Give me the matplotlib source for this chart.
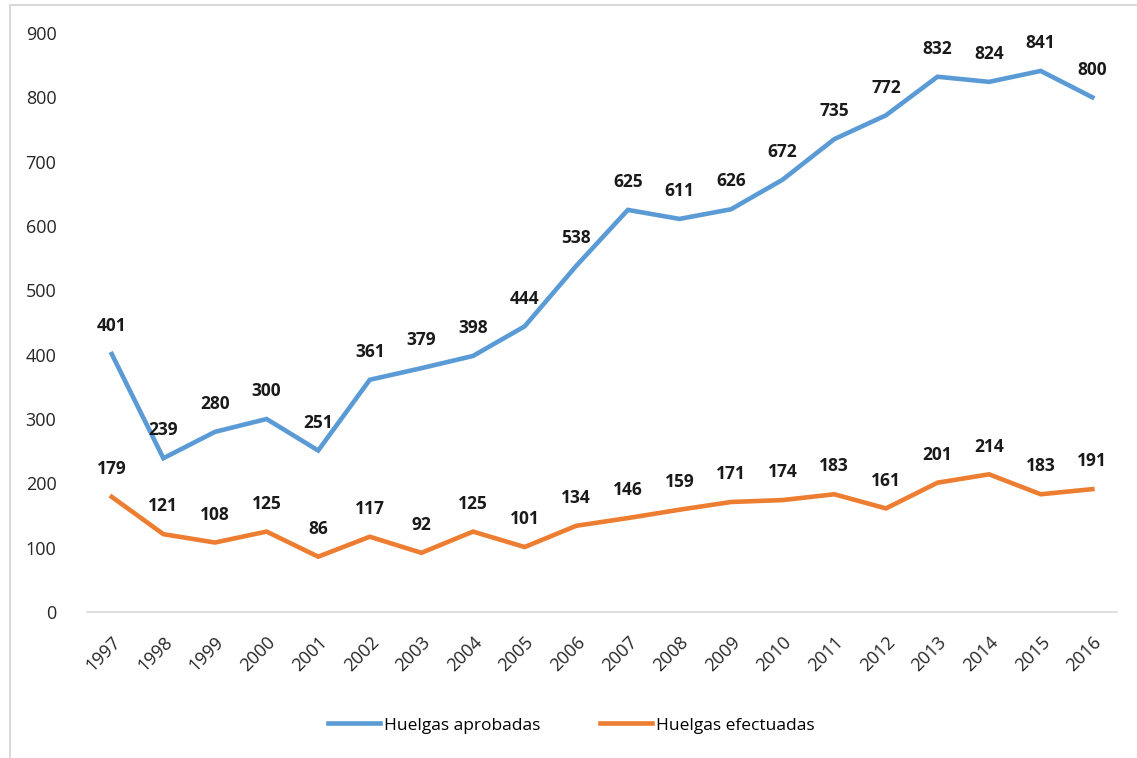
import matplotlib.pyplot as plt
from matplotlib.lines import Line2D

years = ["1997", "1998", "1999", "2000", "2001", "2002", "2003", "2004", "2005", "2006",
         "2007", "2008", "2009", "2010", "2011", "2012", "2013", "2014", "2015", "2016"]
aprobadas = [401, 239, 280, 300, 251, 361, 379, 398, 444, 538,
             625, 611, 626, 672, 735, 772, 832, 824, 841, 800]
efectuadas = [179, 121, 108, 125, 86, 117, 92, 125, 101, 134,
              146, 159, 171, 174, 183, 161, 201, 214, 183, 191]

blue = "#5B9BD5"
orange = "#ED7D31"
plt.rcParams['font.family'] = ['Open Sans', 'DejaVu Sans']

fig = plt.figure(figsize=(11.37, 7.58), dpi=100)
ax = fig.add_axes([0.0765, 0.1926, 0.906, 0.7639])

x = range(len(years))
ax.plot(x, aprobadas, color=blue, lw=3.3, solid_joinstyle='miter', label="Huelgas aprobadas")
ax.plot(x, efectuadas, color=orange, lw=3.3, solid_joinstyle='miter', label="Huelgas efectuadas")

for xi, v in zip(x, aprobadas):
    ax.annotate(str(v), (xi, v), xytext=(0, 20), textcoords='offset points',
                ha='center', va='center', fontsize=12.5, fontweight='bold', color='#1a1a1a')
for xi, v in zip(x, efectuadas):
    ax.annotate(str(v), (xi, v), xytext=(0, 20), textcoords='offset points',
                ha='center', va='center', fontsize=12.5, fontweight='bold', color='#1a1a1a')

ax.set_xlim(-0.48, 19.48)
ax.set_ylim(0, 900)
ax.set_yticks(range(0, 901, 100))
ax.set_xticks(list(x))
ax.set_xticklabels(years, rotation=45, ha='right', rotation_mode='anchor')
ax.tick_params(axis='both', length=0, labelsize=13, colors='#262626')
ax.tick_params(axis='y', pad=22)
ax.tick_params(axis='x', pad=15)
for s in ['top', 'right', 'left']:
    ax.spines[s].set_visible(False)
ax.spines['bottom'].set_color('#D9D9D9')
ax.spines['bottom'].set_linewidth(1.2)

ax.legend(loc='upper center', bbox_to_anchor=(0.47, -0.155), ncol=2, frameon=False,
          fontsize=12.5, handlelength=3.0, handletextpad=0.25, columnspacing=3.4)

# light border of the chart area
fig.add_artist(Line2D([10/1137, 10/1137], [0, 1 - 5/758], transform=fig.transFigure,
                      color='#D9D9D9', lw=1.5))
fig.add_artist(Line2D([10/1137, 1], [1 - 5/758, 1 - 5/758], transform=fig.transFigure,
                      color='#D9D9D9', lw=1.5))

fig.savefig("out.png", dpi=100)
